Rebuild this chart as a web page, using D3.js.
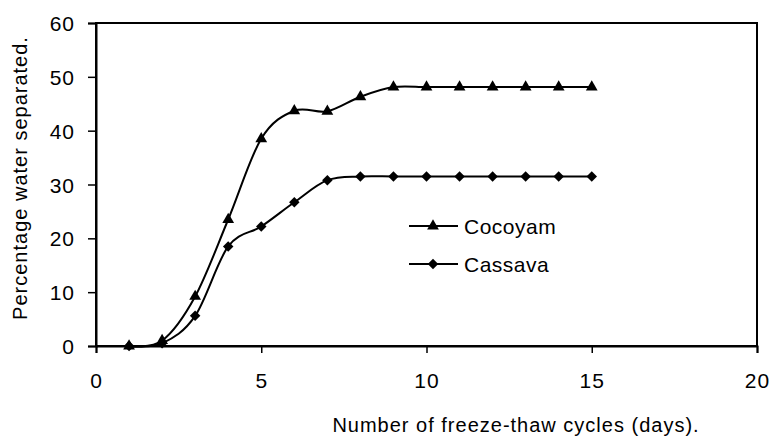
<!DOCTYPE html>
<html>
<head>
<meta charset="utf-8">
<script src="https://cdn.jsdelivr.net/npm/d3@7"></script>
<style>
  body { margin: 0; background: #fff; }
  text { font-family: "Liberation Sans", Arial, sans-serif; fill: #000; }
</style>
</head>
<body>
<div id="chart"></div>
<script>
// cycles (days) and percentage of water separated
var cycles = [1, 2, 3, 4, 5, 6, 7, 8, 9, 10, 11, 12, 13, 14, 15];
var cocoyam = [0, 1.0, 9.2, 23.5, 38.5, 43.7, 43.6, 46.3, 48.1, 48.1, 48.1, 48.1, 48.1, 48.1, 48.1];
var cassava = [0, 0.5, 5.6, 18.5, 22.2, 26.7, 30.8, 31.5, 31.5, 31.5, 31.5, 31.5, 31.5, 31.5, 31.5];
var xTicks = [0, 5, 10, 15, 20];
var yTicks = [0, 10, 20, 30, 40, 50, 60];
var seriesNames = ["Cocoyam", "Cassava"];

var largeur = 775, hauteur = 437;
var marge = {gauche: 96, droite: 18, haut: 23, bas: 91};

var svg = d3.select("#chart").append("svg")
    .attr("width", largeur).attr("height", hauteur);

var x = d3.scaleLinear().domain([0, 20]).range([marge.gauche, largeur - marge.droite]);
var y = d3.scaleLinear().domain([0, 60]).range([hauteur - marge.bas, marge.haut]);

// cadre du graphique
svg.append("rect")
    .attr("x", x(0)).attr("y", y(60))
    .attr("width", x(20) - x(0)).attr("height", y(0) - y(60))
    .attr("fill", "none").attr("stroke", "#000").attr("stroke-width", 2);

var axeX = svg.append("g")
    .attr("transform", "translate(0," + y(0) + ")")
    .call(d3.axisBottom(x).tickValues(xTicks).tickSize(7).tickPadding(20));
var axeY = svg.append("g")
    .attr("transform", "translate(" + x(0) + ",0)")
    .call(d3.axisLeft(y).tickValues(yTicks).tickSize(8).tickPadding(13));

[axeX, axeY].forEach(function (a) {
  a.select(".domain").attr("stroke-width", 2);
  a.selectAll(".tick line").attr("stroke-width", 1.5);
  a.selectAll(".tick text")
    .style("font-family", "'Liberation Sans', Arial, sans-serif")
    .style("font-size", "21px").style("letter-spacing", "1px");
});
axeY.selectAll(".tick text").attr("dy", "0.36em");

// titres des axes
svg.append("text")
    .attr("transform", "translate(27,178) rotate(-90)")
    .attr("text-anchor", "middle")
    .style("font-size", "20px").style("letter-spacing", "1px")
    .text("Percentage water separated.");
svg.append("text")
    .attr("x", 516).attr("y", 432)
    .attr("text-anchor", "middle")
    .style("font-size", "20px").style("letter-spacing", "1px")
    .text("Number of freeze-thaw cycles (days).");

var courbe = d3.line()
    .x(function (d) { return x(d[0]); })
    .y(function (d) { return y(d[1]); })
    .curve(d3.curveCatmullRom.alpha(0));

var triangle = d3.symbol().type(d3.symbolTriangle).size(60);
var losange = d3.symbol().type(d3.symbolSquare).size(55);

var series = [
  {nom: seriesNames[0], valeurs: cocoyam, forme: triangle, rot: 0},
  {nom: seriesNames[1], valeurs: cassava, forme: losange, rot: 45}
];

series.forEach(function (s, i) {
  var pts = cycles.map(function (c, k) { return [c, s.valeurs[k]]; });
  svg.append("path")
    .attr("d", courbe(pts))
    .attr("fill", "none").attr("stroke", "#000").attr("stroke-width", 2);
  svg.selectAll(".m" + i).data(pts).enter().append("path")
    .attr("class", "m" + i)
    .attr("d", s.forme())
    .attr("transform", function (d) {
      return "translate(" + x(d[0]) + "," + y(d[1]) + ") rotate(" + s.rot + ")";
    })
    .attr("fill", "#000");

  // légende
  var ly = 226 + i * 38;
  svg.append("line")
    .attr("x1", 409).attr("x2", 458).attr("y1", ly).attr("y2", ly)
    .attr("stroke", "#000").attr("stroke-width", 2);
  svg.append("path")
    .attr("d", s.forme())
    .attr("transform", "translate(433," + ly + ") rotate(" + s.rot + ")")
    .attr("fill", "#000");
  svg.append("text")
    .attr("x", 464).attr("y", ly + 8)
    .style("font-size", "21px").style("letter-spacing", "0.5px")
    .text(s.nom);
});
</script>
</body>
</html>
